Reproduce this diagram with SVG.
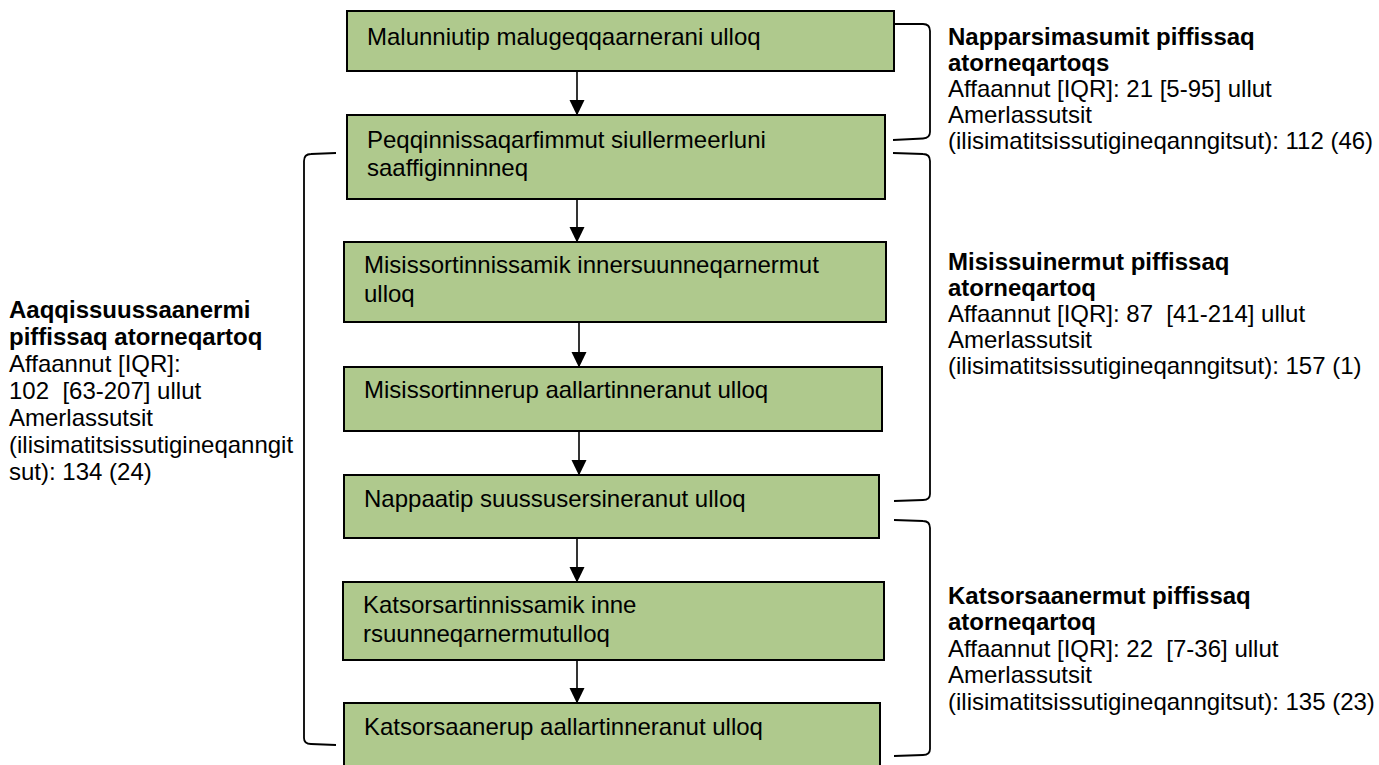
<svg xmlns="http://www.w3.org/2000/svg" width="1379" height="765" viewBox="0 0 1379 765" xml:space="preserve">
<style>
  .box { fill: #AFC98D; stroke: #000; stroke-width: 2; }
  .t { font-family: "Liberation Sans", Arial, sans-serif; font-size: 24px; fill: #000; white-space: pre; }
  .b { font-weight: bold; }
  .conn { stroke: #000; stroke-width: 1.6; fill: none; }
  .br { stroke: #000; stroke-width: 1.8; fill: none; }
</style>
<defs>
  <marker id="ah" markerWidth="16" markerHeight="16" refX="15" refY="8" orient="auto" markerUnits="userSpaceOnUse">
    <path d="M0,0.5 L15.5,8 L0,15.5 Z" fill="#000"/>
  </marker>
</defs>
<rect width="1379" height="765" fill="#fff"/>

<g id="n1">
  <rect class="box" x="347" y="11" width="547" height="60"/>
  <text class="t" x="367" y="45">Malunniutip malugeqqaarnerani ulloq</text>
</g>
<g id="n2">
  <rect class="box" x="347" y="115" width="538" height="84"/>
  <text class="t" x="367" y="148">Peqqinnissaqarfimmut siullermeerluni</text>
  <text class="t" x="367" y="176">saaffiginninneq</text>
</g>
<g id="n3">
  <rect class="box" x="344" y="242" width="542" height="80"/>
  <text class="t" x="364" y="273">Misissortinnissamik innersuunneqarnermut</text>
  <text class="t" x="364" y="302">ulloq</text>
</g>
<g id="n4">
  <rect class="box" x="344" y="367" width="538" height="64"/>
  <text class="t" x="364" y="398">Misissortinnerup aallartinneranut ulloq</text>
</g>
<g id="n5">
  <rect class="box" x="344" y="475" width="535" height="63"/>
  <text class="t" x="364" y="507">Nappaatip suussusersineranut ulloq</text>
</g>
<g id="n6">
  <rect class="box" x="343" y="582" width="541" height="78"/>
  <text class="t" x="363" y="613">Katsorsartinnissamik inne</text>
  <text class="t" x="363" y="642">rsuunneqarnermutulloq</text>
</g>
<g id="n7">
  <rect class="box" x="344" y="703" width="536" height="80"/>
  <text class="t" x="364" y="735">Katsorsaanerup aallartinneranut ulloq</text>
</g>

<g id="connectors">
  <line class="conn" x1="577" y1="71" x2="577" y2="115" marker-end="url(#ah)"/>
  <line class="conn" x1="577" y1="199" x2="577" y2="242" marker-end="url(#ah)"/>
  <line class="conn" x1="579" y1="322" x2="579" y2="367" marker-end="url(#ah)"/>
  <line class="conn" x1="579" y1="431" x2="579" y2="475" marker-end="url(#ah)"/>
  <line class="conn" x1="577" y1="538" x2="577" y2="582" marker-end="url(#ah)"/>
  <line class="conn" x1="577" y1="660" x2="577" y2="703" marker-end="url(#ah)"/>
</g>

<g id="brackets">
  <path class="br" d="M894,24 L923,24 Q930,24 930,31 L930,132 Q930,138 923,138.5 L893,140"/>
  <path class="br" d="M893,153 L923,154 Q930,154 930,161 L930,494 Q930,500 923,500 L894,501"/>
  <path class="br" d="M894,520 L923,521 Q930,521 930,528 L930,749 Q930,755 923,755 L894,756"/>
  <path class="br" d="M336,153 L311,154 Q304,154 304,161 L304,738 Q304,744 311,744 L336,745"/>
</g>

<g id="label-left">
  <text class="t b" x="9" y="318">Aaqqissuussaanermi</text>
  <text class="t b" x="9" y="345">piffissaq atorneqartoq</text>
  <text class="t" x="9" y="372">Affaannut [IQR]:</text>
  <text class="t" x="9" y="399">102  [63-207] ullut</text>
  <text class="t" x="9" y="426">Amerlassutsit</text>
  <text class="t" x="9" y="453">(ilisimatitsissutigineqanngit</text>
  <text class="t" x="9" y="480">sut): 134 (24)</text>
</g>
<g id="label-r1">
  <text class="t b" x="948" y="45">Napparsimasumit piffissaq</text>
  <text class="t b" x="948" y="71">atorneqartoqs</text>
  <text class="t" x="948" y="97">Affaannut [IQR]: 21 [5-95] ullut</text>
  <text class="t" x="948" y="123">Amerlassutsit</text>
  <text class="t" x="948" y="149">(ilisimatitsissutigineqanngitsut): 112 (46)</text>
</g>
<g id="label-r2">
  <text class="t b" x="948" y="270">Misissuinermut piffissaq</text>
  <text class="t b" x="948" y="296">atorneqartoq</text>
  <text class="t" x="948" y="322">Affaannut [IQR]: 87  [41-214] ullut</text>
  <text class="t" x="948" y="348">Amerlassutsit</text>
  <text class="t" x="948" y="374">(ilisimatitsissutigineqanngitsut): 157 (1)</text>
</g>
<g id="label-r3">
  <text class="t b" x="948" y="604">Katsorsaanermut piffissaq</text>
  <text class="t b" x="948" y="630">atorneqartoq</text>
  <text class="t" x="948" y="657">Affaannut [IQR]: 22  [7-36] ullut</text>
  <text class="t" x="948" y="683">Amerlassutsit</text>
  <text class="t" x="948" y="710">(ilisimatitsissutigineqanngitsut): 135 (23)</text>
</g>
</svg>
